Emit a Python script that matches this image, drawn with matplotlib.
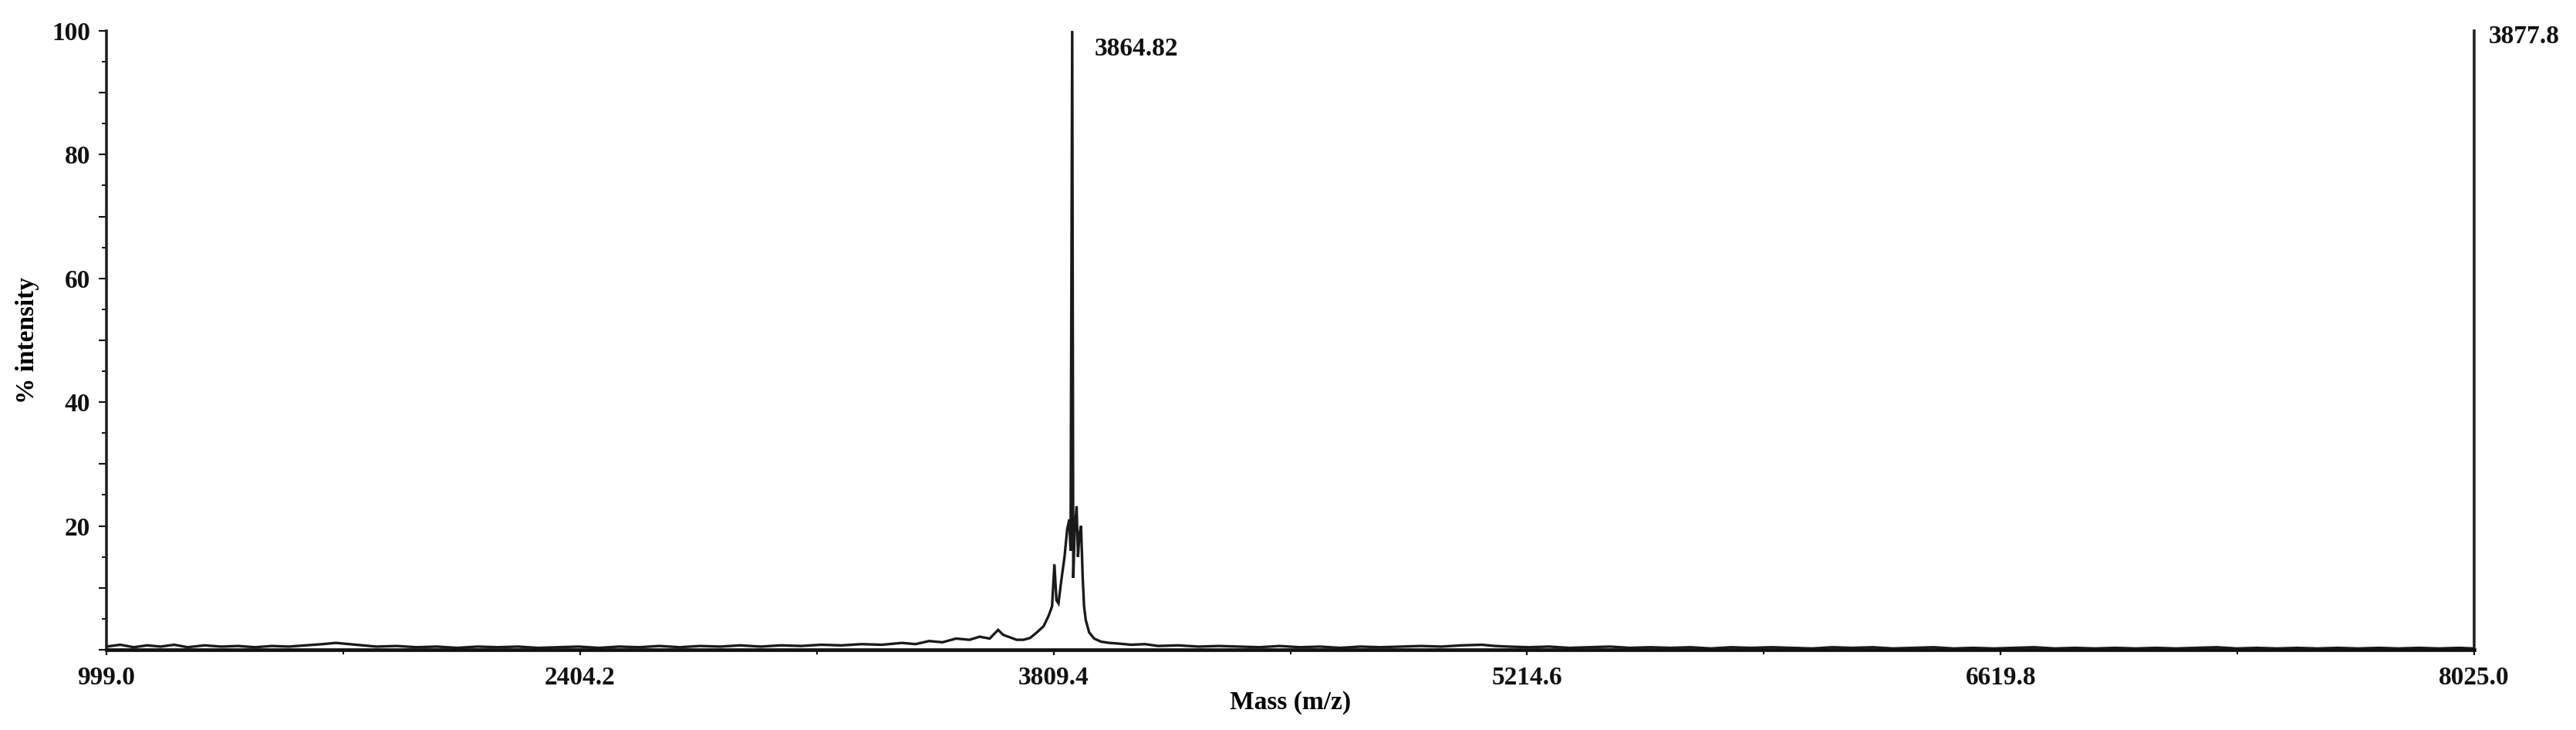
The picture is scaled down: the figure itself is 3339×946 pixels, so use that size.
import matplotlib
matplotlib.use("Agg")
import matplotlib.pyplot as plt
from matplotlib.ticker import FixedLocator, FixedFormatter

# ---- data (mass m/z, % intensity) ----
mass = [
    999, 1040, 1080, 1120, 1160, 1200, 1240, 1290, 1340, 1390, 1440, 1490,
    1540, 1590, 1640, 1680, 1720, 1760, 1800, 1860, 1920, 1980, 2040, 2100,
    2160, 2220, 2280, 2340, 2400, 2460, 2520, 2580, 2640, 2700, 2760, 2820,
    2880, 2940, 3000, 3060, 3120, 3180, 3240, 3300, 3360, 3400, 3440, 3480,
    3520, 3560, 3590, 3620, 3645, 3660, 3680, 3700, 3720, 3740, 3760, 3780,
    3795, 3805, 3812, 3818, 3824, 3832, 3842, 3850, 3856, 3860, 3864.82,
    3868, 3872, 3877.8, 3882, 3886, 3891, 3896, 3900, 3905, 3915, 3930,
    3950, 3975, 4000, 4040, 4080, 4120, 4180, 4240, 4300, 4360, 4420, 4480,
    4540, 4600, 4660, 4720, 4780, 4840, 4900, 4960, 5020, 5080, 5120, 5160,
    5220, 5280, 5340, 5400, 5460, 5520, 5580, 5640, 5700, 5760, 5820, 5880,
    5940, 6000, 6060, 6120, 6180, 6240, 6300, 6360, 6420, 6480, 6540, 6600,
    6660, 6720, 6780, 6840, 6900, 6960, 7020, 7080, 7140, 7200, 7260, 7320,
    7380, 7440, 7500, 7560, 7620, 7680, 7740, 7800, 7860, 7920, 7980, 8025,
]
intensity = [
    0.5, 0.8, 0.4, 0.7, 0.5, 0.8, 0.4, 0.7, 0.5, 0.6, 0.4, 0.6,
    0.5, 0.7, 0.9, 1.1, 0.9, 0.7, 0.5, 0.6, 0.4, 0.5, 0.3, 0.5,
    0.4, 0.5, 0.3, 0.4, 0.5, 0.3, 0.5, 0.4, 0.6, 0.4, 0.6, 0.5,
    0.7, 0.5, 0.7, 0.6, 0.8, 0.7, 0.9, 0.8, 1.1, 0.9, 1.4, 1.2,
    1.8, 1.6, 2.1, 1.8, 3.2, 2.4, 2.0, 1.6, 1.6, 1.9, 2.8, 3.8,
    5.5, 7.0, 13.8, 8.0, 7.5, 11.0, 15.0, 19.5, 21.0, 16.0, 100.0,
    11.6, 19.0, 23.2, 15.0, 18.5, 20.0, 11.6, 7.0, 4.8, 2.8, 1.8,
    1.3, 1.1, 1.0, 0.8, 0.9, 0.6, 0.7, 0.5, 0.6, 0.5, 0.4, 0.6,
    0.4, 0.5, 0.3, 0.5, 0.4, 0.5, 0.6, 0.5, 0.7, 0.8, 0.6, 0.5,
    0.4, 0.5, 0.3, 0.4, 0.5, 0.3, 0.4, 0.3, 0.4, 0.2, 0.4, 0.3,
    0.4, 0.3, 0.2, 0.4, 0.3, 0.4, 0.2, 0.3, 0.4, 0.2, 0.3, 0.2,
    0.3, 0.4, 0.2, 0.3, 0.2, 0.3, 0.2, 0.3, 0.2, 0.3, 0.4, 0.2,
    0.3, 0.2, 0.3, 0.2, 0.3, 0.2, 0.3, 0.2, 0.3, 0.2, 0.3, 0.2,
]

x_ticks = [999.0, 2404.2, 3809.4, 5214.6, 6619.8, 8025.0]
x_tick_labels = ["999.0", "2404.2", "3809.4", "5214.6", "6619.8", "8025.0"]
y_ticks = [0, 10, 20, 30, 40, 50, 60, 70, 80, 90, 100]
y_tick_labels = ["", "", "20", "", "40", "", "60", "", "80", "", "100"]

peak_label = "3864.82"
peak_mass = 3864.82
right_label = "3877.8"

FONT = "Liberation Serif"
FS = 24

fig = plt.figure(figsize=(33.39, 9.46), dpi=100)
ax = fig.add_axes([0.0413, 0.110, 0.9192, 0.8477])

ax.plot(mass, intensity, color="#1a1a1a", lw=2.4, solid_joinstyle="miter")

ax.set_xlim(x_ticks[0], x_ticks[-1])
ax.set_ylim(0, 100)

ax.spines["top"].set_visible(False)
for s in ("left", "right"):
    ax.spines[s].set_linewidth(2.6)
    ax.spines[s].set_color("#222222")
ax.spines["bottom"].set_linewidth(3.4)
ax.spines["bottom"].set_color("#111111")

ax.xaxis.set_major_locator(FixedLocator(x_ticks))
ax.xaxis.set_major_formatter(FixedFormatter(x_tick_labels))
ax.xaxis.set_minor_locator(FixedLocator([(a + b) / 2 for a, b in zip(x_ticks[:-1], x_ticks[1:])]))
ax.yaxis.set_major_locator(FixedLocator(y_ticks))
ax.yaxis.set_major_formatter(FixedFormatter(y_tick_labels))
ax.yaxis.set_minor_locator(FixedLocator([v + 5 for v in y_ticks[:-1]]))

ax.tick_params(axis="x", which="major", direction="out", length=5, width=1.6,
               pad=10, labelsize=FS, colors="#111111")
ax.tick_params(axis="x", which="minor", direction="out", length=4, width=1.4)
ax.tick_params(axis="y", which="major", direction="out", length=7, width=1.5,
               pad=8, labelsize=FS, colors="#111111")
ax.tick_params(axis="y", which="minor", direction="out", length=4, width=1.3)
ax.tick_params(axis="y", right=False)

for lab in ax.get_xticklabels() + ax.get_yticklabels():
    lab.set_fontfamily(FONT)
    lab.set_fontweight("bold")

ax.set_xlabel("Mass (m/z)", fontfamily=FONT, fontweight="bold", fontsize=FS, labelpad=1)
ax.set_ylabel("% intensity", fontfamily=FONT, fontweight="bold", fontsize=FS, labelpad=12)

ax.annotate(peak_label, xy=(peak_mass, 100), xytext=(21, -17), textcoords="offset points",
            ha="left", va="center", fontfamily=FONT, fontweight="bold", fontsize=FS,
            color="#111111")
ax.text(1.006, 0.991, right_label, transform=ax.transAxes, ha="left", va="center",
        fontfamily=FONT, fontweight="bold", fontsize=FS, color="#111111")

fig.savefig("out.png", dpi=100, facecolor="white")
